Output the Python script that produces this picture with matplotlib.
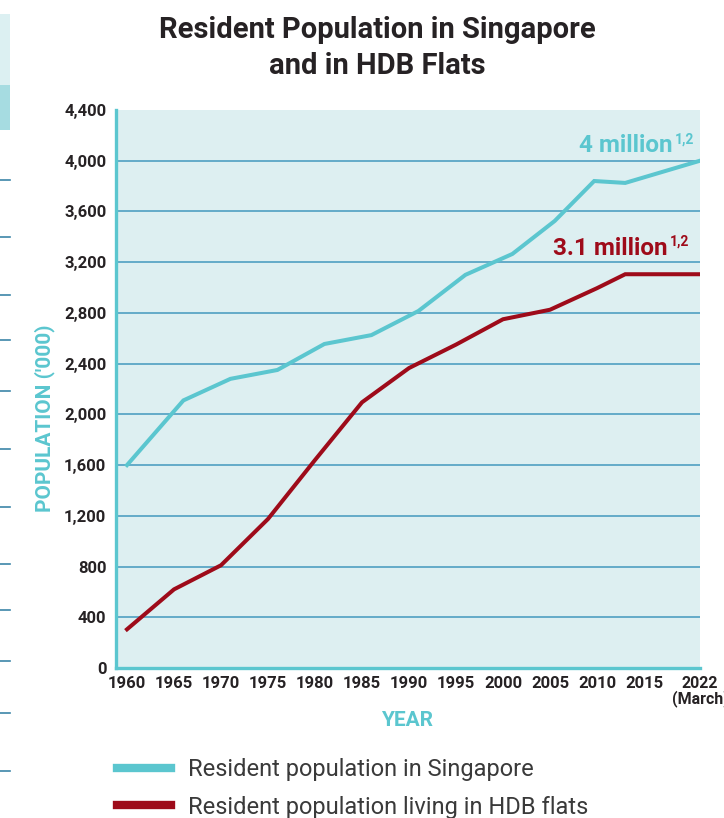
import numpy as np
import matplotlib
matplotlib.use("Agg")
import matplotlib.pyplot as plt
from matplotlib.lines import Line2D
from matplotlib.patches import Rectangle

# ---------------- data ----------------
sg_years = [1960, 1966, 1971, 1976, 1981, 1986, 1991, 1996, 2001, 2005.5, 2009.7, 2013, 2022]
sg_pop = [1600, 2110, 2280, 2350, 2555, 2625, 2815, 3100, 3265, 3525, 3840, 3825, 4000]

hdb_years = [1960, 1965, 1970, 1975, 1980, 1985, 1990, 1995, 2000, 2005, 2010, 2013, 2022]
hdb_pop = [305, 620, 810, 1175, 1640, 2095, 2365, 2550, 2750, 2825, 2995, 3105, 3105]

x_ticks = [1960, 1965, 1970, 1975, 1980, 1985, 1990, 1995, 2000, 2005, 2010, 2015, 2022]
x_labels = ["1960", "1965", "1970", "1975", "1980", "1985", "1990", "1995",
            "2000", "2005", "2010", "2015", "2022\n(March)"]
y_ticks = [0, 400, 800, 1200, 1600, 2000, 2400, 2800, 3200, 3600, 4000, 4400]
y_labels = ["0", "400", "800", "1,200", "1,600", "2,000", "2,400", "2,800",
            "3,200", "3,600", "4,000", "4,400"]

title = "Resident Population in Singapore\nand in HDB Flats"
series_labels = ["Resident population in Singapore", "Resident population living in HDB flats"]

# ---------------- style ----------------
TEAL = "#5BC6CF"
RED = "#9E0B1A"
BG = "#DDEFF1"
GRID = "#4F9FC2"
DARK = "#262224"
FONT = ["Roboto", "DejaVu Sans"]
plt.rcParams["font.family"] = FONT

fig = plt.figure(figsize=(7.24, 8.18), dpi=100)
ax = fig.add_axes([116 / 724, 1 - 668 / 818, 584 / 724, 558 / 818])

# last interval (2015 -> 2022 March) is drawn compressed in the original
K = 0.851
def fwd(x):
    x = np.asarray(x, dtype=float)
    return np.where(x <= 2015, x, 2015 + (x - 2015) * K)
def inv(x):
    x = np.asarray(x, dtype=float)
    return np.where(x <= 2015, x, 2015 + (x - 2015) / K)
ax.set_xscale("function", functions=(fwd, inv))

ax.set_facecolor(BG)
ax.plot(sg_years, sg_pop, color=TEAL, lw=2.9, solid_joinstyle="miter", zorder=3)
ax.plot(hdb_years, hdb_pop, color=RED, lw=2.9, solid_joinstyle="miter", zorder=3)

ax.set_xlim(1958.83, 2022)
ax.set_ylim(0, 4400)

ax.set_yticks(y_ticks)
ax.set_yticklabels(y_labels, fontsize=12, fontweight="bold", color=DARK)
ax.set_xticks(x_ticks)
ax.set_xticklabels(x_labels, fontsize=12, fontweight="bold", color=DARK, linespacing=0.9)
ax.tick_params(axis="both", length=0)
ax.tick_params(axis="y", pad=7)
ax.tick_params(axis="x", pad=6)
ax.set_xticks([], minor=True)
ax.get_xticklabels()[-1].set_fontsize(11.5)

ax.yaxis.grid(True, color=GRID, lw=1.2)
ax.set_axisbelow(True)
gl = ax.yaxis.get_gridlines()
gl[0].set_visible(False)
gl[-1].set_visible(False)

for s in ["top", "right"]:
    ax.spines[s].set_visible(False)
for s in ["left", "bottom"]:
    ax.spines[s].set_color(TEAL)
    ax.spines[s].set_linewidth(2.4)

ax.set_ylabel("POPULATION ('000)", fontsize=15, fontweight="bold", color=TEAL)
ax.yaxis.set_label_coords(-(116 - 45) / 584, (668 - 418) / 558)
ax.set_xlabel("YEAR", fontsize=15, fontweight="bold", color=TEAL)
ax.xaxis.set_label_coords((407 - 116) / 584, -(720 - 668) / 558)
ax.xaxis.label.set_va("center")
ax.yaxis.label.set_va("center")

fig.text(377 / 724, 1 - 48 / 818, title, ha="center", va="center", fontsize=21,
         fontweight="bold", color=DARK, linespacing=1.35)

# end annotations
ax.text(0.9538, 0.9247, "4 million", transform=ax.transAxes, ha="right", va="baseline",
        fontsize=17.5, fontweight="bold", color=TEAL)
ax.text(0.957, 0.94, "1,2", transform=ax.transAxes, ha="left", va="baseline",
        fontsize=10, fontweight="bold", color=TEAL)
ax.text(0.945, 0.741, "3.1 million", transform=ax.transAxes, ha="right", va="baseline",
        fontsize=17.5, fontweight="bold", color=RED)
ax.text(0.9486, 0.757, "1,2", transform=ax.transAxes, ha="left", va="baseline",
        fontsize=10, fontweight="bold", color=RED)

handles = [Line2D([], [], color=TEAL, lw=6), Line2D([], [], color=RED, lw=6)]
fig.legend(handles, series_labels, loc="upper left", bbox_to_anchor=(117 / 724, 1 - 758 / 818),
           frameon=False, fontsize=17, handlelength=2.3, handletextpad=0.72,
           labelspacing=0.62, borderpad=0, borderaxespad=0, labelcolor="#3A3A3A")

# cropped neighbouring-page decoration at the left edge
fig.add_artist(Rectangle((0, 1 - 85 / 818), 10 / 724, 71 / 818, transform=fig.transFigure,
                         color="#DCF0F2", lw=0))
fig.add_artist(Rectangle((0, 1 - 130 / 818), 10 / 724, 45 / 818, transform=fig.transFigure,
                         color="#A6DCE1", lw=0))
for yy in [180, 237, 295, 340, 391, 449, 507, 564, 610, 661, 713, 771]:
    fig.add_artist(Line2D([0, 10 / 724], [1 - yy / 818] * 2, transform=fig.transFigure,
                          color="#3C85A8", lw=1.2))

fig.savefig("out.png", dpi=100)
